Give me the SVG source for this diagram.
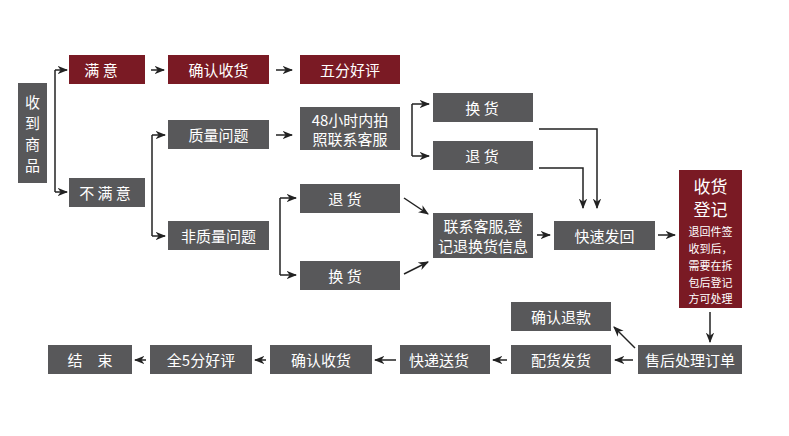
<svg xmlns="http://www.w3.org/2000/svg" width="789" height="436" viewBox="0 0 789 436">
<defs>
<marker id="ah" viewBox="0 0 10 10" refX="9" refY="5" markerWidth="7" markerHeight="7" orient="auto"><path d="M0,1 L10,5 L0,9 L3,5 z" fill="#222"/></marker>
<style>
.g{fill:#58585a}.r{fill:#7a1a24}
text{fill:#fff;font-family:"Noto Sans CJK SC","Noto Sans",sans-serif;font-size:15px;text-anchor:middle;dominant-baseline:central}
.b{font-size:17px}.s{font-size:11px}.v{font-size:15px}
.c{fill:none;stroke:#222;stroke-width:1.5;marker-end:url(#ah)}
.l{fill:none;stroke:#222;stroke-width:1.5}
</style>
</defs>
<rect width="789" height="436" fill="#fff"/>
<g id="n1"><rect class="g" x="18" y="83" width="29" height="100"/><text class="v" x="32.5" y="101">收</text><text class="v" x="32.5" y="122">到</text><text class="v" x="32.5" y="143">商</text><text class="v" x="32.5" y="164">品</text></g>
<g id="n2"><rect class="r" x="69" y="55" width="76" height="29"/><text x="101" y="69.5">满 意</text></g>
<g id="n3"><rect class="r" x="168" y="55" width="101" height="29"/><text x="218.5" y="69.5">确认收货</text></g>
<g id="n4"><rect class="r" x="300" y="55" width="100" height="29"/><text x="350" y="69.5">五分好评</text></g>
<g id="n5"><rect class="g" x="69" y="178" width="76" height="29"/><text x="105" y="192.5">不 满 意</text></g>
<g id="n6"><rect class="g" x="168" y="120" width="101" height="29"/><text x="218.5" y="134.5">质量问题</text></g>
<g id="n7"><rect class="g" x="300" y="107" width="100" height="43"/><text x="350" y="119">48小时内拍</text><text x="350" y="138">照联系客服</text></g>
<g id="n8"><rect class="g" x="168" y="221" width="101" height="29"/><text x="218.5" y="235.5">非质量问题</text></g>
<g id="n9"><rect class="g" x="300" y="184" width="100" height="29"/><text x="345" y="198.5">退 货</text></g>
<g id="n10"><rect class="g" x="300" y="261" width="100" height="29"/><text x="345" y="275.5">换 货</text></g>
<g id="n11"><rect class="g" x="433" y="93" width="100" height="29"/><text x="482" y="107.5">换 货</text></g>
<g id="n12"><rect class="g" x="433" y="141" width="100" height="29"/><text x="482" y="155.5">退 货</text></g>
<g id="n13"><rect class="g" x="433" y="213" width="100" height="45"/><text x="483" y="225">联系客服,登</text><text x="483" y="245">记退换货信息</text></g>
<g id="n14"><rect class="g" x="554" y="221" width="101" height="29"/><text x="604.5" y="235.5">快速发回</text></g>
<g id="n15"><rect class="r" x="679" y="170" width="63" height="138"/><text class="b" x="710.5" y="185">收货</text><text class="b" x="710.5" y="208">登记</text><text class="s" x="710.5" y="231">退回件签</text><text class="s" x="710.5" y="248">收到后，</text><text class="s" x="710.5" y="265">需要在拆</text><text class="s" x="710.5" y="282">包后登记</text><text class="s" x="710.5" y="298">方可处理</text></g>
<g id="n16"><rect class="g" x="511" y="302" width="100" height="29"/><text x="561" y="316.5">确认退款</text></g>
<g id="n17"><rect class="g" x="638" y="345" width="104" height="29"/><text x="690" y="359.5">售后处理订单</text></g>
<g id="n18"><rect class="g" x="511" y="345" width="100" height="29"/><text x="561" y="359.5">配货发货</text></g>
<g id="n19"><rect class="g" x="400" y="345" width="90" height="29"/><text x="439" y="359.5">快递送货</text></g>
<g id="n20"><rect class="g" x="270" y="345" width="102" height="29"/><text x="321" y="359.5">确认收货</text></g>
<g id="n21"><rect class="g" x="150" y="345" width="102" height="29"/><text x="201" y="359.5">全5分好评</text></g>
<g id="n22"><rect class="g" x="48" y="345" width="84" height="29"/><text x="90" y="359.5">结　束</text></g>
<g id="connectors">
<path class="l" d="M55,70 V192"/><path class="c" d="M55,70 H67"/><path class="c" d="M55,192 H67"/>
<path class="c" d="M151,70 H164"/><path class="c" d="M276,70 H292"/>
<path class="l" d="M152,135 V236"/><path class="c" d="M152,135 H165"/><path class="c" d="M152,236 H165"/>
<path class="c" d="M276,135 H292"/>
<path class="l" d="M412,104 V156"/><path class="c" d="M412,104 H429"/><path class="c" d="M412,156 H429"/>
<path class="l" d="M280,198 V275"/><path class="c" d="M280,198 H296"/><path class="c" d="M280,275 H296"/>
<path class="c" d="M404,198 L428,214"/><path class="c" d="M404,274 L428,262"/>
<path class="c" d="M539,129 H597 V208"/><path class="c" d="M539,168 H583 V208"/>
<path class="c" d="M537,235 H550"/><path class="c" d="M658,235 H675"/>
<path class="c" d="M710,312 V342"/>
<path class="c" d="M635,348 L614,327"/>
<path class="c" d="M633,360 H615"/><path class="c" d="M507,360 H493"/><path class="c" d="M396,360 H375"/><path class="c" d="M266,360 H255"/><path class="c" d="M146,360 H135"/>
</g>
</svg>
